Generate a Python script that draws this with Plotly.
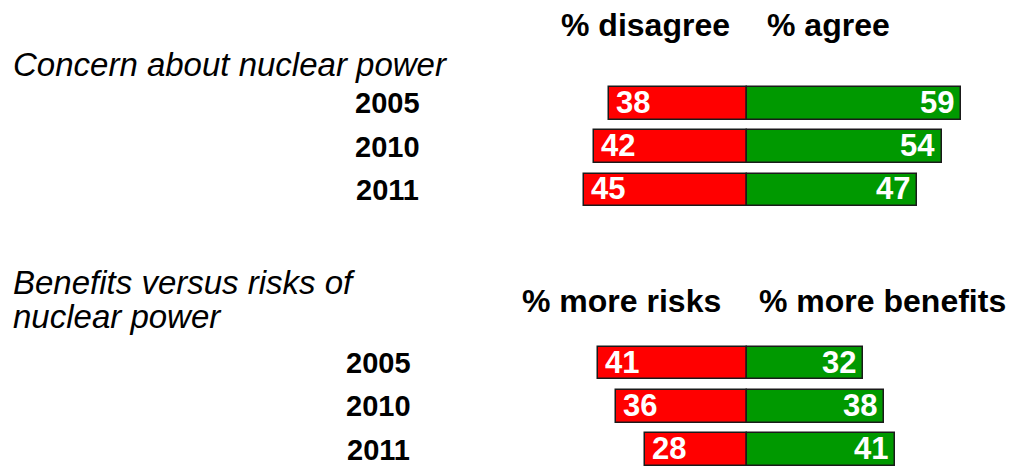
import plotly.graph_objects as go

# Survey results by year for two questions
years = ["2005", "2010", "2011"]

concern_disagree = [38, 42, 45]
concern_agree = [59, 54, 47]

risk_more_risks = [41, 36, 28]
risk_more_benefits = [32, 38, 41]

group_titles = ["Concern about nuclear power", "Benefits versus risks of<br>nuclear power"]
left_headers = ["% disagree", "% more risks"]
right_headers = ["% agree", "% more benefits"]

RED = "#FF0000"
GREEN = "#009900"
OUTLINE = "#1a1a1a"
FONT = "Liberation Sans, Arial, sans-serif"

# Row positions: first group at rows 0-2, second group at rows 6-8
row_a = [i for i in range(len(years))]
row_b = [6 + i for i in range(len(years))]

fig = go.Figure()

groups = [
    (row_a, concern_disagree, concern_agree),
    (row_b, risk_more_risks, risk_more_benefits),
]

for rows, neg, pos in groups:
    fig.add_trace(go.Bar(
        y=rows, x=[-v for v in neg], orientation="h", width=0.75,
        marker=dict(color=RED, line=dict(color=OUTLINE, width=1.5)),
        hoverinfo="skip", showlegend=False,
    ))
    fig.add_trace(go.Bar(
        y=rows, x=pos, orientation="h", width=0.75,
        marker=dict(color=GREEN, line=dict(color=OUTLINE, width=1.5)),
        hoverinfo="skip", showlegend=False,
    ))

annotations = []
label_font = dict(family=FONT, size=31, color="white")
for rows, neg, pos in groups:
    for r, n, p in zip(rows, neg, pos):
        annotations.append(dict(
            x=-n, y=r, xref="x", yref="y", text=f"<b>{n}</b>",
            xanchor="left", yanchor="middle", xshift=5, yshift=1,
            showarrow=False, font=label_font,
        ))
        annotations.append(dict(
            x=p, y=r, xref="x", yref="y", text=f"<b>{p}</b>",
            xanchor="right", yanchor="middle", xshift=-5, yshift=1,
            showarrow=False, font=label_font,
        ))

# Year labels beside each bar row
year_font = dict(family=FONT, size=29, color="black")
for rows, xpos in ((row_a, 0.381), (row_b, 0.372)):
    for r, yr in zip(rows, years):
        annotations.append(dict(
            x=xpos, y=r, xref="paper", yref="y", text=f"<b>{yr}</b>",
            xanchor="center", yanchor="middle", showarrow=False, font=year_font,
        ))

# Column headers
header_font = dict(family=FONT, size=32, color="black")
for (ly, lx, rx), lh, rh in zip(((0.946, 0.719, 0.7515), (0.360, 0.710, 0.7436)),
                                 left_headers, right_headers):
    annotations.append(dict(x=lx, y=ly, xref="paper", yref="paper", text=f"<b>{lh}</b>",
                            xanchor="right", yanchor="middle", showarrow=False, font=header_font))
    annotations.append(dict(x=rx, y=ly, xref="paper", yref="paper", text=f"<b>{rh}</b>",
                            xanchor="left", yanchor="middle", showarrow=False, font=header_font))

# Italic group titles
title_font = dict(family=FONT, size=33, color="black")
title_lines = [
    (group_titles[0], 0.862),
] + [(line, y) for line, y in zip(group_titles[1].split("<br>"), (0.398, 0.326))]
for text, y in title_lines:
    annotations.append(dict(x=0.011, y=y, xref="paper", yref="paper", text=f"<i>{text}</i>",
                            xanchor="left", yanchor="middle", showarrow=False, font=title_font))

fig.update_layout(
    width=1018, height=470,
    margin=dict(l=0, r=0, t=0, b=0),
    paper_bgcolor="white", plot_bgcolor="white",
    barmode="relative", bargap=0,
    xaxis=dict(range=[-206.0, 74.84], visible=False, fixedrange=True),
    yaxis=dict(range=[8.469, -2.386], visible=False, fixedrange=True),
    annotations=annotations,
    font=dict(family=FONT),
)

fig.write_html("out.html")
